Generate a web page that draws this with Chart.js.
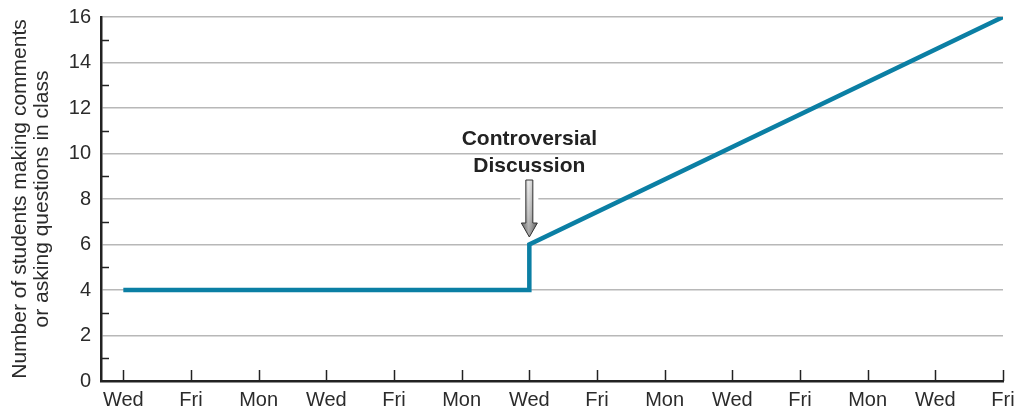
<!DOCTYPE html>
<html>
<head>
<meta charset="utf-8">
<script src="https://cdn.jsdelivr.net/npm/chart.js@4"></script>
<style>
  html, body { margin: 0; padding: 0; background: #fff; }
  #wrap { width: 1019px; height: 411px; }
</style>
</head>
<body>
<div id="wrap"><canvas id="c" width="1019" height="411"></canvas></div>
<script>
// Weekday labels along the x axis, one per class session
const dayLabels = ['Wed', 'Fri', 'Mon', 'Wed', 'Fri', 'Mon', 'Wed', 'Fri', 'Mon', 'Wed', 'Fri', 'Mon', 'Wed', 'Fri'];
// Session index and number of students participating
const sessionIndex = [0, 6, 6, 13];
const studentCount = [4, 4, 6, 16];
// Y tick labels (every other integer)
const yTickValues = [0, 2, 4, 6, 8, 10, 12, 14, 16];
// Session where the intervention happened
const eventSession = 6;
const eventLabel = ['Controversial', 'Discussion'];

const lineColor = '#0b7fa4';
const textColor = '#2b2b2b';
const fontFamily = '"Liberation Sans", Arial, sans-serif';

const series = sessionIndex.map((x, i) => ({ x: x, y: studentCount[i] }));

const decorPlugin = {
  id: 'decor',
  beforeDatasetsDraw(chart) {
    const { ctx, scales: { x, y } } = chart;
    ctx.save();
    // minor y ticks at odd values, pointing into the plot
    ctx.strokeStyle = '#222';
    ctx.lineWidth = 1.5;
    for (let v = 1; v < 16; v += 2) {
      const py = Math.round(y.getPixelForValue(v)) + 0.5;
      ctx.beginPath();
      ctx.moveTo(x.left, py);
      ctx.lineTo(x.left + 8, py);
      ctx.stroke();
    }
    // x ticks pointing up from the axis
    dayLabels.forEach((_, i) => {
      const px = Math.round(x.getPixelForValue(i)) + 0.5;
      ctx.beginPath();
      ctx.moveTo(px, y.bottom);
      ctx.lineTo(px, y.bottom - 11);
      ctx.stroke();
    });
    // white gap in the gridline behind the arrow
    const ax = x.getPixelForValue(eventSession);
    const top = y.getPixelForValue(8) - 3;
    ctx.fillStyle = '#fff';
    ctx.fillRect(ax - 9, top, 18, 6);
    ctx.restore();
  },
  afterDatasetsDraw(chart) {
    const { ctx, scales: { x, y } } = chart;
    const ax = x.getPixelForValue(eventSession);
    ctx.save();
    // annotation text
    ctx.fillStyle = '#222';
    ctx.font = 'bold 21px ' + fontFamily;
    ctx.textAlign = 'center';
    ctx.textBaseline = 'middle';
    ctx.fillText(eventLabel[0], ax, 139);
    ctx.fillText(eventLabel[1], ax, 166);
    // arrow pointing down at the step
    const shaftTop = 180, shaftBottom = 223, tip = 237;
    const sw = 3.5, hw = 8;
    const g = ctx.createLinearGradient(ax - hw, 0, ax + hw, 0);
    g.addColorStop(0, '#555');
    g.addColorStop(0.45, '#f2f2f2');
    g.addColorStop(0.6, '#cfcfcf');
    g.addColorStop(1, '#444');
    ctx.beginPath();
    ctx.moveTo(ax - sw, shaftTop);
    ctx.lineTo(ax + sw, shaftTop);
    ctx.lineTo(ax + sw, shaftBottom);
    ctx.lineTo(ax + hw, shaftBottom);
    ctx.lineTo(ax, tip);
    ctx.lineTo(ax - hw, shaftBottom);
    ctx.lineTo(ax - sw, shaftBottom);
    ctx.closePath();
    const vg = ctx.createLinearGradient(0, shaftTop, 0, tip);
    vg.addColorStop(0, '#e8e8e8');
    vg.addColorStop(0.6, '#9a9a9a');
    vg.addColorStop(1, '#555');
    ctx.fillStyle = vg;
    ctx.fill();
    ctx.globalAlpha = 0.5;
    ctx.fillStyle = g;
    ctx.fill();
    ctx.globalAlpha = 1;
    ctx.strokeStyle = '#333';
    ctx.lineWidth = 1;
    ctx.stroke();
    ctx.restore();
  }
};

new Chart(document.getElementById('c'), {
  type: 'line',
  data: {
    datasets: [{
      data: series,
      borderColor: lineColor,
      borderWidth: 4.5,
      pointRadius: 0,
      tension: 0,
      fill: false,
      borderJoinStyle: 'miter',
      borderCapStyle: 'butt'
    }]
  },
  options: {
    responsive: false,
    animation: false,
    devicePixelRatio: 1,
    layout: { padding: { top: 17, right: 16, left: 0, bottom: 0 } },
    plugins: { legend: { display: false }, tooltip: { enabled: false } },
    scales: {
      x: {
        type: 'linear',
        min: -0.33,
        max: 13,
        afterFit(s) { s.height = 30; s.paddingRight = 16; s.paddingLeft = 0; },
        afterBuildTicks(s) { s.ticks = dayLabels.map((_, i) => ({ value: i })); },
        ticks: {
          autoSkip: false,
          maxRotation: 0,
          padding: 7,
          color: textColor,
          font: { family: fontFamily, size: 20 },
          callback: (v) => dayLabels[v]
        },
        grid: { display: false, drawTicks: false },
        border: { display: true, color: '#222', width: 2.5 }
      },
      y: {
        type: 'linear',
        min: 0,
        max: 16,
        afterFit(s) { s.width = 101; s.paddingTop = 0; s.paddingBottom = 0; },
        afterBuildTicks(s) { s.ticks = yTickValues.map(v => ({ value: v })); },
        ticks: {
          padding: 10,
          color: textColor,
          font: { family: fontFamily, size: 20 }
        },
        grid: {
          drawTicks: false,
          color: (c) => (c.tick && c.tick.value === 0) ? 'rgba(0,0,0,0)' : '#b8b8b8',
          lineWidth: 1.5
        },
        border: { display: true, color: '#222', width: 2.5 },
        title: {
          display: true,
          text: ['Number of students making comments', 'or asking questions in class'],
          color: textColor,
          font: { family: fontFamily, size: 21, lineHeight: 1.05 },
          padding: { top: 9, bottom: 0 }
        }
      }
    }
  },
  plugins: [decorPlugin]
});
</script>
</body>
</html>
